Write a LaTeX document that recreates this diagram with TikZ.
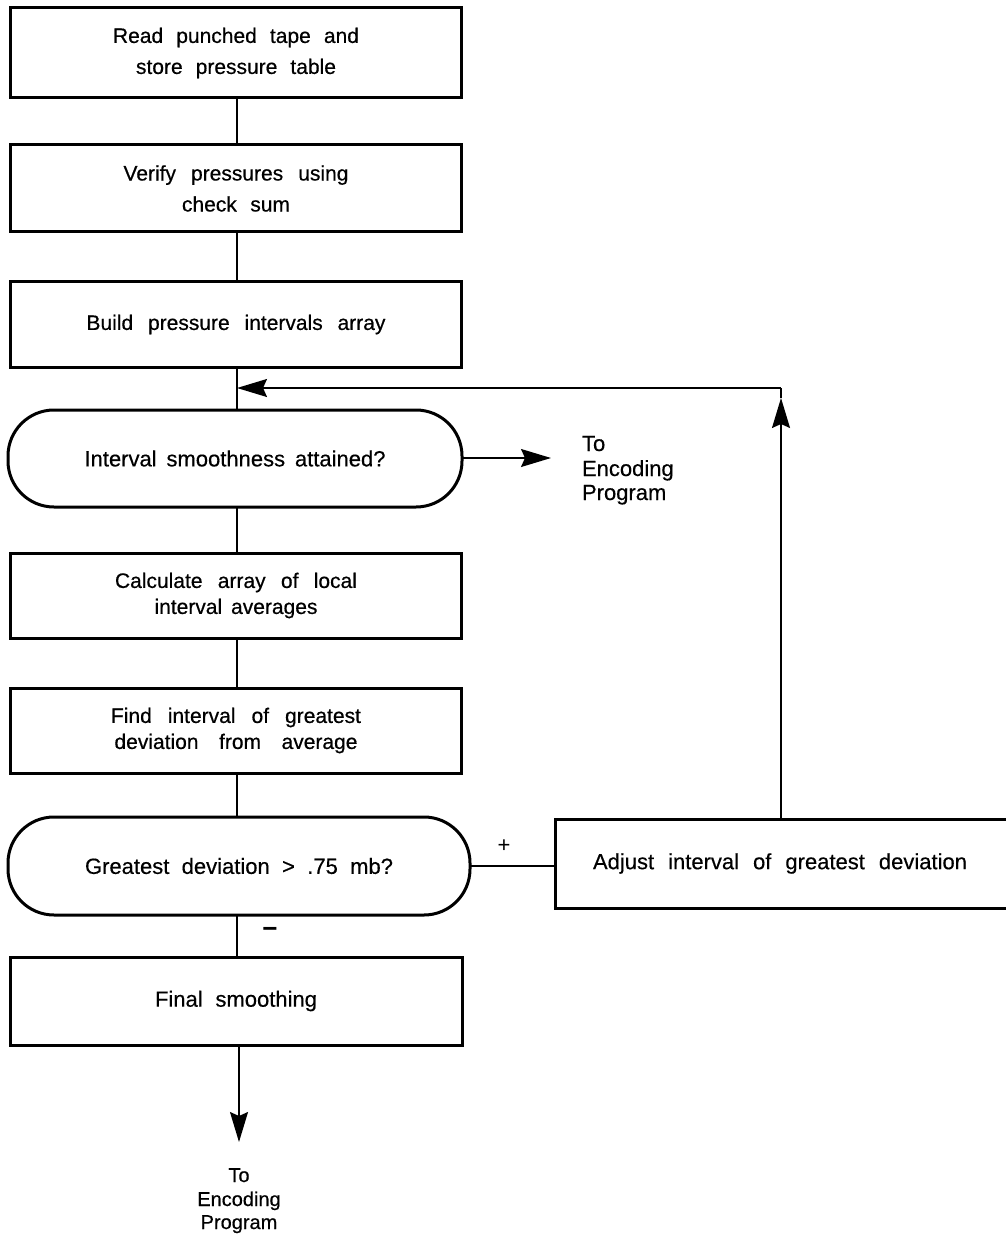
\documentclass[tikz,border=0pt]{standalone}
\usepackage{fontspec}
\setmainfont{Liberation Sans}
\newfontfamily\widefamily[FakeBold=0.5]{Liberation Sans}
\newfontfamily\narrowfamily[FakeBold=0.4]{Liberation Sans}
\usetikzlibrary{arrows.meta}
\newcommand\wfont{\widefamily\fontsize{21}{31}\selectfont}
\newcommand\wfontb{\widefamily\fontsize{21}{26}\selectfont}
\newcommand\wfontc{\widefamily\fontsize{20}{24}\selectfont}
\newcommand\nfont{\narrowfamily\fontsize{22}{25}\selectfont}
\newcommand\sw[2]{\makebox[#1pt][s]{#2}}
\begin{document}
\begin{tikzpicture}[x=1pt,y=-1pt,
  box/.style={draw, line width=3pt, rectangle, inner sep=0pt, outer sep=0pt, align=center},
  stad/.style={box, rounded corners=46pt},
  conn/.style={line width=1.5pt},
  arr/.style={line width=1.5pt, -{Stealth[length=30pt,width=18pt,inset=4pt]}},
  lbl/.style={inner sep=0pt, outer sep=0pt}]
\useasboundingbox (0,0) rectangle (1005,1238);
\fill[white] (0,0) rectangle (1005,1238);

% main column boxes
\node[box, font=\wfont, minimum width=451pt, minimum height=90pt] (b1) at (236,53)
  {\sw{246}{Read punched tape and}\\\sw{200}{store pressure table}};
\node[box, font=\wfont, minimum width=451pt, minimum height=87pt] (b2) at (236,188.5)
  {\sw{225}{Verify pressures using}\\\sw{108}{check sum}};
\node[box, font=\wfont, minimum width=451pt, minimum height=85pt] (b3) at (236,324.5)
  {\sw{299}{Build pressure intervals array}};
\node[stad, font=\nfont, minimum width=454pt, minimum height=97pt] (s1) at (235,458.5)
  {\sw{301}{Interval smoothness attained?}};
\node[box, font=\wfontb, minimum width=451pt, minimum height=85pt] (b5) at (236,595.5)
  {\sw{242}{Calculate array of local}\\\sw{163}{interval averages}};
\node[box, font=\wfontb, minimum width=451pt, minimum height=85pt] (b6) at (236,730.5)
  {\sw{250}{Find interval of greatest}\\\sw{243}{deviation from average}};
\node[stad, font=\nfont, minimum width=462pt, minimum height=98pt] (s2) at (239,866)
  {\sw{308}{Greatest deviation > .75 mb?}};
\node[box, font=\nfont, minimum width=452pt, minimum height=88pt] (b8) at (236,1001)
  {\sw{162}{Final smoothing}};
\node[box, font=\nfont, minimum width=455pt, minimum height=89pt] (adj) at (782.5,863.5)
  {\hspace*{-5pt}\sw{374}{Adjust interval of greatest deviation}};

% coordinates
\coordinate (col) at (237,0);
\coordinate (j) at (237,388);
\coordinate (c) at (781,388);
\coordinate (up) at (781,398);
\coordinate (rt) at (551,458);
\coordinate (bt) at (239,1142);

% connectors
\draw[conn] (b1.south -| col) -- (b2.north -| col);
\draw[conn] (b2.south -| col) -- (b3.north -| col);
\draw[conn] (b3.south -| col) -- (s1.north -| col);
\draw[conn] (s1.south -| col) -- (b5.north -| col);
\draw[conn] (b5.south -| col) -- (b6.north -| col);
\draw[conn] (b6.south -| col) -- (s2.north -| col);
\draw[conn] (s2.south -| col) -- (b8.north -| col);
\draw[line width=2.6pt] (s2.east) -- (adj.west |- s2.east);
\draw[arr] (adj.north -| up) -- (up);
\draw[conn] (up) -- (c);
\draw[arr] (c) -- (j);
\draw[arr] (s1.east |- rt) -- (rt);
\draw[arr] (b8.south -| bt) -- (bt);

% labels
\node[lbl, font=\nfont, anchor=base west] (r1) at (582,451) {To};
\node[lbl, font=\nfont, anchor=base west] (r2) at (582,476) {Encoding};
\node[lbl, font=\nfont, anchor=base west] (r3) at (582,500) {Program};
\node[lbl, font=\wfontc, anchor=base] (d1) at (239,1182) {To};
\node[lbl, font=\wfontc, anchor=base] (d2) at (239,1206) {Encoding};
\node[lbl, font=\wfontc, anchor=base] (d3) at (239,1229) {Program};
\node[lbl, font=\fontsize{22}{22}\selectfont] (plus) at (504,846) {+};
\node[lbl, font=\fontsize{26}{26}\selectfont\bfseries] (minus) at (270,932) {−};
\end{tikzpicture}
\end{document}
